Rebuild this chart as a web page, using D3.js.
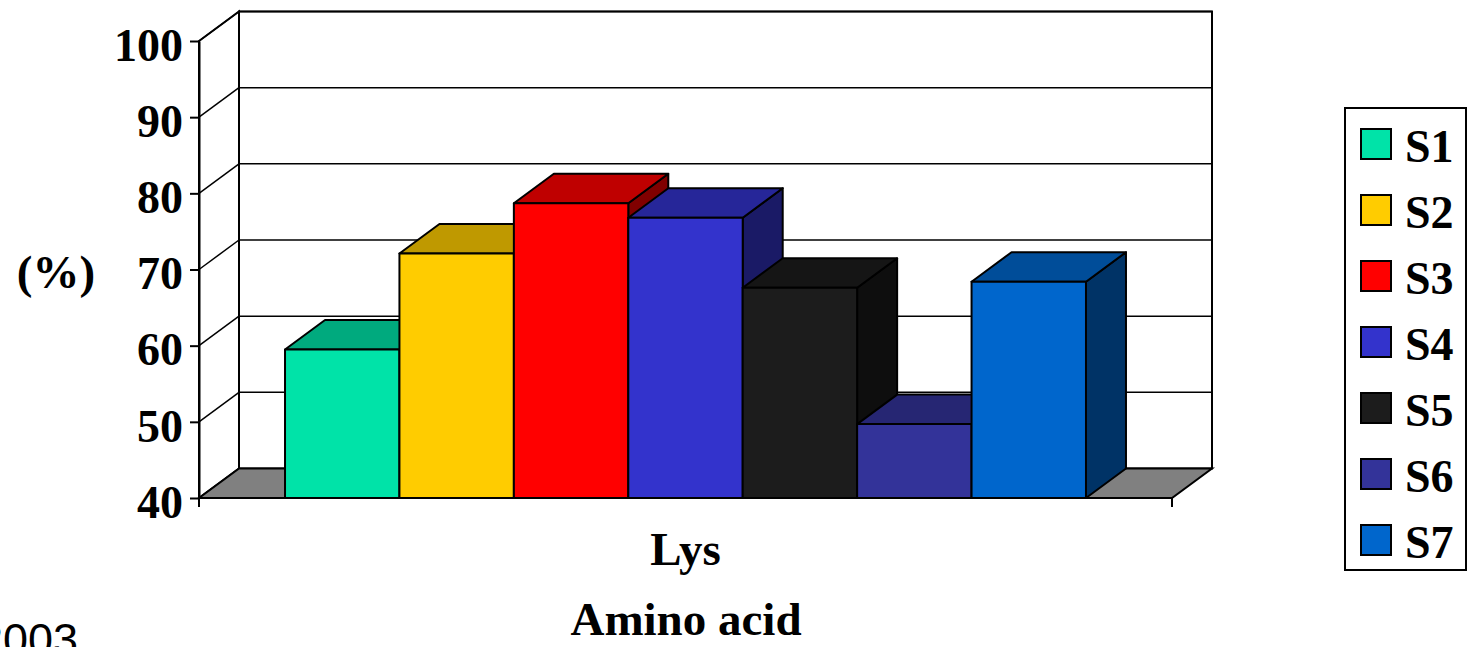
<!DOCTYPE html>
<html>
<head>
<meta charset="utf-8">
<script src="https://cdn.jsdelivr.net/npm/d3@7"></script>
<style>
  body { margin: 0; background: #fff; }
  svg { display: block; }
</style>
</head>
<body>
<svg id="chart"></svg>
<script>
const categories = ["Lys"];
const series = ["S1", "S2", "S3", "S4", "S5", "S6", "S7"];
const values = [59.5, 72.1, 78.7, 76.8, 67.6, 49.7, 68.4];
const yTicks = [40, 50, 60, 70, 80, 90, 100];
const colors = ["#00E3A8", "#FFCC00", "#FF0000", "#3333CC", "#1C1C1C", "#333399", "#0066CC"];

const width = 1471;
const height = 647;
const serif = "'Liberation Serif', 'Times New Roman', serif";
const depth = { dx: 40, dy: -29.5 };

const svg = d3.select("#chart")
  .attr("width", width)
  .attr("height", height);

const y = d3.scaleLinear().domain([40, 100]).range([498, 41]);
const x0 = d3.scaleBand().domain(categories).range([199, 1172]).paddingInner(0).paddingOuter(0.1074);
const x1 = d3.scaleBand().domain(series)
  .range([x0(categories[0]), x0(categories[0]) + x0.bandwidth()]);
const color = d3.scaleOrdinal().domain(series).range(colors);

const [xl, xr] = x0.range();
const yBase = y(40);
const yTop = y(100);
const poly = pts => pts.map(p => p.join(",")).join(" ");

// left wall and back wall
svg.append("polygon")
  .attr("points", poly([[xl, yTop], [xl + depth.dx, yTop + depth.dy], [xl + depth.dx, yBase + depth.dy], [xl, yBase]]))
  .attr("fill", "#fff").attr("stroke", "#000").attr("stroke-width", 2);
svg.append("rect")
  .attr("x", xl + depth.dx).attr("y", yTop + depth.dy)
  .attr("width", xr - xl).attr("height", yBase - yTop)
  .attr("fill", "#fff").attr("stroke", "#000").attr("stroke-width", 2);

// gridlines
yTicks.filter(t => t > 40).forEach(t => {
  svg.append("line")
    .attr("x1", xl).attr("y1", y(t))
    .attr("x2", xl + depth.dx).attr("y2", y(t) + depth.dy)
    .attr("stroke", "#000").attr("stroke-width", 1.5);
  svg.append("line")
    .attr("x1", xl + depth.dx).attr("y1", y(t) + depth.dy)
    .attr("x2", xr + depth.dx).attr("y2", y(t) + depth.dy)
    .attr("stroke", "#000").attr("stroke-width", 1.5);
});

// floor
svg.append("polygon")
  .attr("points", poly([[xl, yBase], [xr, yBase], [xr + depth.dx, yBase + depth.dy], [xl + depth.dx, yBase + depth.dy]]))
  .attr("fill", "#808080").attr("stroke", "#000").attr("stroke-width", 2);

// bars
series.forEach((s, i) => {
  const c = d3.color(color(s));
  const bx = x1(s);
  const bw = x1.bandwidth();
  const by = y(values[i]);
  const g = svg.append("g").attr("stroke", "#000").attr("stroke-width", 2).attr("stroke-linejoin", "round");
  g.append("polygon")
    .attr("points", poly([[bx + bw, by], [bx + bw + depth.dx, by + depth.dy], [bx + bw + depth.dx, yBase + depth.dy], [bx + bw, yBase]]))
    .attr("fill", d3.rgb(c.r * 0.5, c.g * 0.5, c.b * 0.5));
  g.append("polygon")
    .attr("points", poly([[bx, by], [bx + bw, by], [bx + bw + depth.dx, by + depth.dy], [bx + depth.dx, by + depth.dy]]))
    .attr("fill", d3.rgb(c.r * 0.75, c.g * 0.75, c.b * 0.75));
  g.append("rect")
    .attr("x", bx).attr("y", by)
    .attr("width", bw).attr("height", yBase - by)
    .attr("fill", c);
});

// value axis
const yAxis = svg.append("g")
  .attr("transform", `translate(${xl},0)`)
  .call(d3.axisLeft(y).tickValues(yTicks).tickSize(9).tickSizeOuter(0).tickPadding(7));
yAxis.select(".domain").attr("stroke", "#000").attr("stroke-width", 2);
yAxis.selectAll(".tick line").attr("stroke", "#000").attr("stroke-width", 2);
yAxis.selectAll(".tick text")
  .attr("dy", "0.42em")
  .style("font-family", serif)
  .style("font-size", "46px")
  .style("font-weight", "bold")
  .attr("fill", "#000");

// category axis
svg.append("line")
  .attr("x1", xl).attr("y1", yBase).attr("x2", xr).attr("y2", yBase)
  .attr("stroke", "#000").attr("stroke-width", 2);
[xl, xr].forEach(px => {
  svg.append("line")
    .attr("x1", px).attr("y1", yBase).attr("x2", px).attr("y2", yBase + 9)
    .attr("stroke", "#000").attr("stroke-width", 2);
});

categories.forEach(cat => {
  svg.append("text")
    .attr("x", x0(cat) + x0.bandwidth() / 2)
    .attr("y", 565)
    .attr("text-anchor", "middle")
    .style("font-family", serif).style("font-size", "47px").style("font-weight", "bold")
    .text(cat);
});

svg.append("text")
  .attr("x", 686).attr("y", 635)
  .attr("text-anchor", "middle")
  .style("font-family", serif).style("font-size", "47px").style("font-weight", "bold")
  .text("Amino acid");

svg.append("text")
  .attr("x", 56).attr("y", 288)
  .attr("text-anchor", "middle")
  .style("font-family", serif).style("font-size", "47px").style("font-weight", "bold")
  .text("(%)");

// cut off at the bottom-left corner, as in the reference
svg.append("text")
  .attr("x", -22).attr("y", 655)
  .style("font-family", "'Liberation Sans', Arial, sans-serif").style("font-size", "45px")
  .text("2003");

// legend
const legend = svg.append("g");
legend.append("rect")
  .attr("x", 1345).attr("y", 108)
  .attr("width", 121).attr("height", 462)
  .attr("fill", "#fff").attr("stroke", "#000").attr("stroke-width", 2);
series.forEach((s, i) => {
  const ly = 129 + i * 66;
  legend.append("rect")
    .attr("x", 1361).attr("y", ly)
    .attr("width", 30).attr("height", 30)
    .attr("fill", color(s)).attr("stroke", "#000").attr("stroke-width", 2);
  legend.append("text")
    .attr("x", 1405).attr("y", ly + 33)
    .style("font-family", serif).style("font-size", "46px").style("font-weight", "bold")
    .text(s);
});
</script>
</body>
</html>
